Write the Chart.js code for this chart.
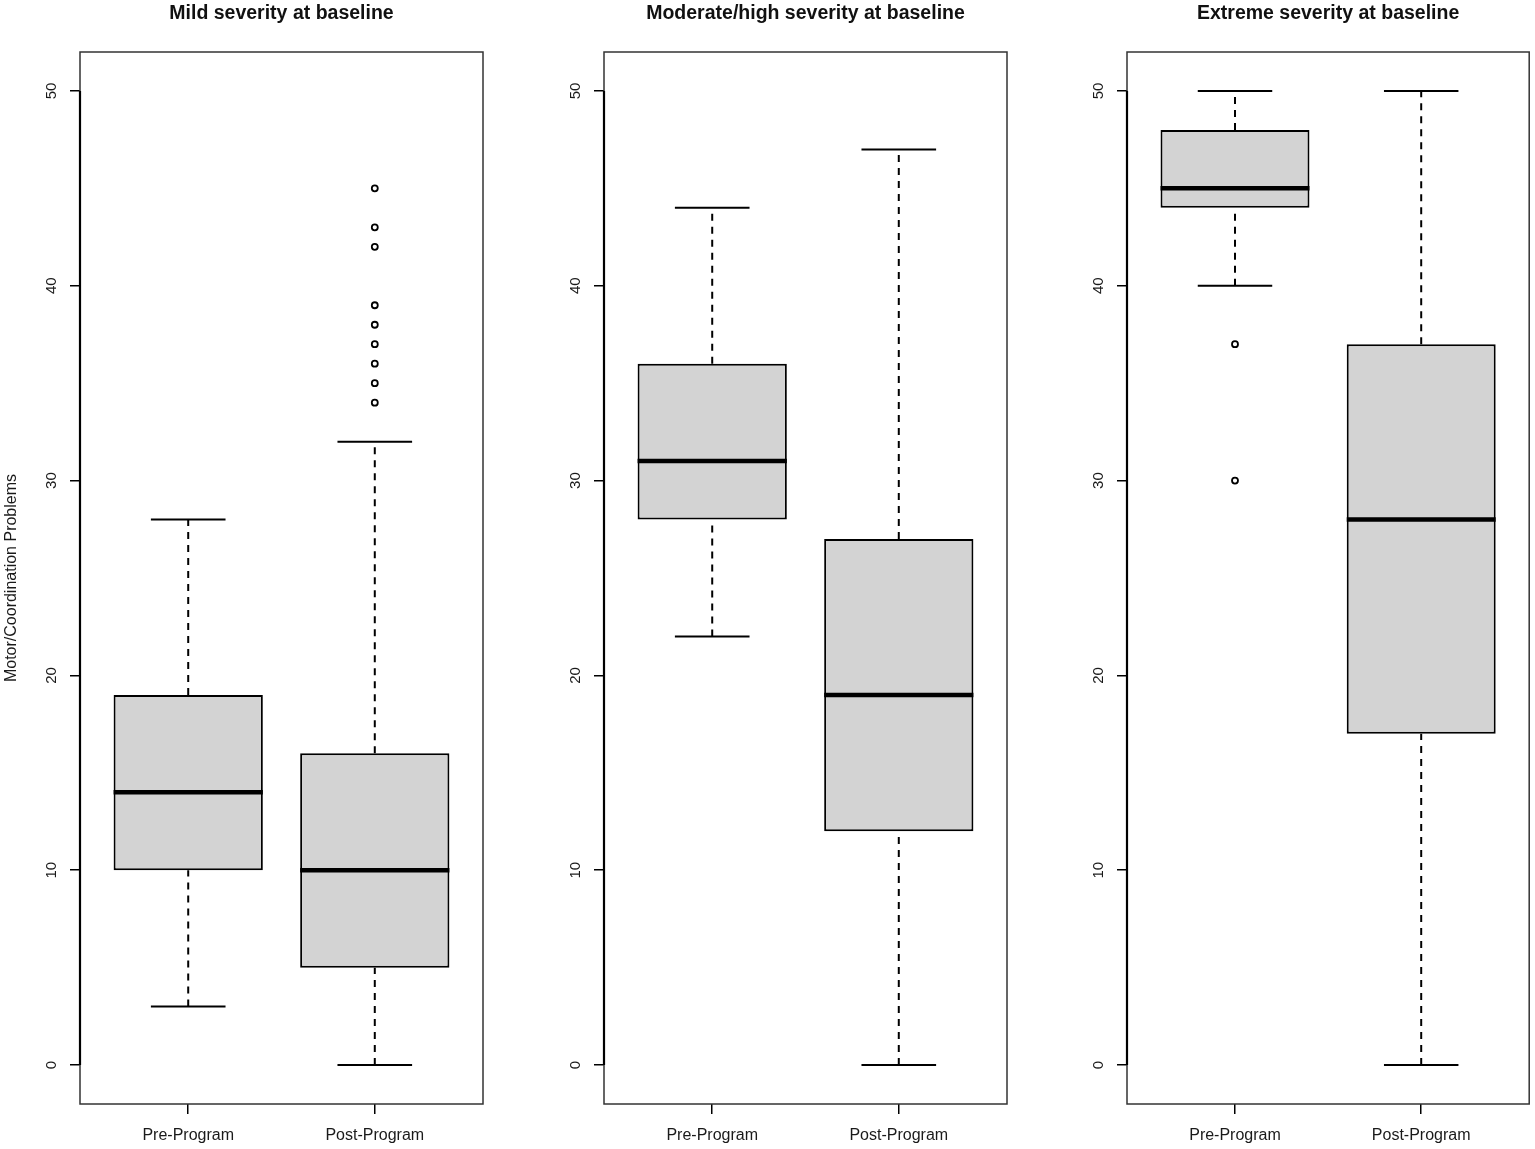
<!DOCTYPE html>
<html>
<head>
<meta charset="utf-8">
<title>Motor/Coordination Problems by baseline severity</title>
<script src="https://cdn.jsdelivr.net/npm/chart.js@4.4.1/dist/chart.umd.min.js"></script>
<style>
  html, body { margin: 0; padding: 0; background: #fff; overflow: hidden; }
  .panel { position: absolute; top: 0; height: 1149px; }
</style>
</head>
<body>
<div class="panel" style="left:0;width:500px"><canvas id="mildChart"></canvas></div>
<div class="panel" style="left:524px;width:500px"><canvas id="moderateChart"></canvas></div>
<div class="panel" style="left:1047px;width:488px"><canvas id="extremeChart"></canvas></div>
<script>
// Categorias y ticks
const groups = ['Pre-Program', 'Post-Program'];
const panelTitles = ['Mild severity at baseline', 'Moderate/high severity at baseline', 'Extreme severity at baseline'];
const yTicks = [0, 10, 20, 30, 40, 50];
const yTitle = 'Motor/Coordination Problems';

// Resumen de cinco numeros: [bigote inferior, Q1, mediana, Q3, bigote superior]
const mildPre = [3, 10, 14, 19, 28];
const mildPost = [0, 5, 10, 16, 32];
const mildOutliers = [[], [34, 35, 36, 37, 38, 39, 42, 43, 45]];

const moderatePre = [22, 28, 31, 36, 44];
const moderatePost = [0, 12, 19, 27, 47];
const moderateOutliers = [[], []];

const extremePre = [40, 44, 45, 48, 50];
const extremePost = [0, 17, 28, 37, 50];
const extremeOutliers = [[37, 30], []];

const FONT = '"Liberation Sans", Arial, sans-serif';
const BOX_HALF = 0.4;   // boxwex 0.8 como en R
const CAP_HALF = 0.2;   // staplewex 0.5

Chart.defaults.font.family = FONT;
Chart.defaults.color = '#1a1a1a';

// Marco del grafico, eje y, etiquetas giradas y titulo del panel
const framePlugin = {
  id: 'frame',
  afterDraw(chart, args, opts) {
    const { ctx, chartArea: a } = chart;
    const y = chart.scales.y;
    ctx.save();
    ctx.strokeStyle = '#333';
    ctx.lineWidth = 1.5;
    ctx.strokeRect(a.left, a.top, a.right - a.left, a.bottom - a.top);

    ctx.strokeStyle = '#000';
    ctx.lineWidth = 2.2;
    ctx.beginPath();
    ctx.moveTo(a.left, y.getPixelForValue(yTicks[0]));
    ctx.lineTo(a.left, y.getPixelForValue(yTicks[yTicks.length - 1]));
    ctx.stroke();

    ctx.fillStyle = '#1a1a1a';
    ctx.font = '15px ' + FONT;
    ctx.textAlign = 'center';
    ctx.textBaseline = 'middle';
    yTicks.forEach(v => {
      ctx.save();
      ctx.translate(a.left - 28, y.getPixelForValue(v));
      ctx.rotate(-Math.PI / 2);
      ctx.fillText(String(v), 0, 0);
      ctx.restore();
    });

    ctx.fillStyle = '#111';
    ctx.font = 'bold 19.5px ' + FONT;
    ctx.fillText(opts.text, (a.left + a.right) / 2, 14);
    ctx.restore();
  }
};

function makePanel(id, title, pre, post, outliers, showYTitle, width) {
  const stats = [pre, post];
  const xs = groups.map((g, i) => i + 1);

  const boxes = stats.map((s, i) => ({ x: xs[i], y: [s[1], s[3]] }));
  const whiskers = [];
  const caps = [];
  const medians = [];
  stats.forEach((s, i) => {
    const x = xs[i];
    whiskers.push({ x, y: s[0] }, { x, y: s[1] }, { x, y: null },
                  { x, y: s[3] }, { x, y: s[4] }, { x, y: null });
    caps.push({ x: x - CAP_HALF, y: s[0] }, { x: x + CAP_HALF, y: s[0] }, { x, y: null },
              { x: x - CAP_HALF, y: s[4] }, { x: x + CAP_HALF, y: s[4] }, { x, y: null });
    medians.push({ x: x - BOX_HALF, y: s[2] }, { x: x + BOX_HALF, y: s[2] }, { x, y: null });
  });
  const points = outliers.flatMap((vals, i) => vals.map(v => ({ x: xs[i], y: v })));

  new Chart(document.getElementById(id), {
    type: 'bar',
    data: {
      datasets: [
        {
          label: 'IQR',
          data: boxes,
          backgroundColor: '#d3d3d3',
          borderColor: '#000',
          borderWidth: 2,
          borderSkipped: false,
          barPercentage: 0.8,
          categoryPercentage: 1,
          order: 4
        },
        {
          type: 'line',
          label: 'whiskers',
          data: whiskers,
          borderColor: '#000',
          borderWidth: 2,
          borderDash: [7, 6],
          pointRadius: 0,
          fill: false,
          order: 3
        },
        {
          type: 'line',
          label: 'caps',
          data: caps,
          borderColor: '#000',
          borderWidth: 2,
          pointRadius: 0,
          fill: false,
          order: 2
        },
        {
          type: 'line',
          label: 'median',
          data: medians,
          borderColor: '#000',
          borderWidth: 4.5,
          pointRadius: 0,
          fill: false,
          order: 1
        },
        {
          type: 'scatter',
          label: 'outliers',
          data: points,
          pointRadius: 3,
          pointBorderWidth: 1.8,
          borderColor: '#000',
          backgroundColor: '#fff',
          order: 0
        }
      ]
    },
    options: {
      responsive: true,
      maintainAspectRatio: false,
      animation: false,
      events: [],
      layout: {
        padding: { top: 52, left: 0, bottom: 0, right: width - 483 }
      },
      scales: {
        x: {
          type: 'linear',
          min: 0.42,
          max: 2.58,
          offset: false,
          afterBuildTicks: (axis) => { axis.ticks = xs.map(v => ({ value: v })); },
          afterFit: (scale) => { scale.height = 45; },
          grid: { offset: false, drawOnChartArea: false, drawTicks: true, tickLength: 10, color: '#000', lineWidth: 1.5 },
          border: { display: false },
          ticks: {
            autoSkip: false,
            maxRotation: 0,
            padding: 12,
            color: '#1a1a1a',
            font: { size: 16 },
            callback: (value) => groups[Math.round(value) - 1]
          }
        },
        y: {
          type: 'linear',
          min: -2,
          max: 52,
          afterBuildTicks: (axis) => { axis.ticks = yTicks.map(v => ({ value: v })); },
          afterFit: (scale) => { scale.width = 80; },
          grid: { drawOnChartArea: false, drawTicks: true, tickLength: 10, color: '#000', lineWidth: 1.5 },
          border: { display: false },
          ticks: { display: false },
          title: {
            display: showYTitle,
            text: yTitle,
            color: '#1a1a1a',
            font: { size: 16 },
            padding: { top: 2, bottom: 0 }
          }
        }
      },
      plugins: {
        legend: { display: false },
        tooltip: { enabled: false },
        frame: { text: title }
      }
    },
    plugins: [framePlugin]
  });
}

makePanel('mildChart', panelTitles[0], mildPre, mildPost, mildOutliers, true, 500);
makePanel('moderateChart', panelTitles[1], moderatePre, moderatePost, moderateOutliers, false, 500);
makePanel('extremeChart', panelTitles[2], extremePre, extremePost, extremeOutliers, false, 488);
</script>
</body>
</html>
